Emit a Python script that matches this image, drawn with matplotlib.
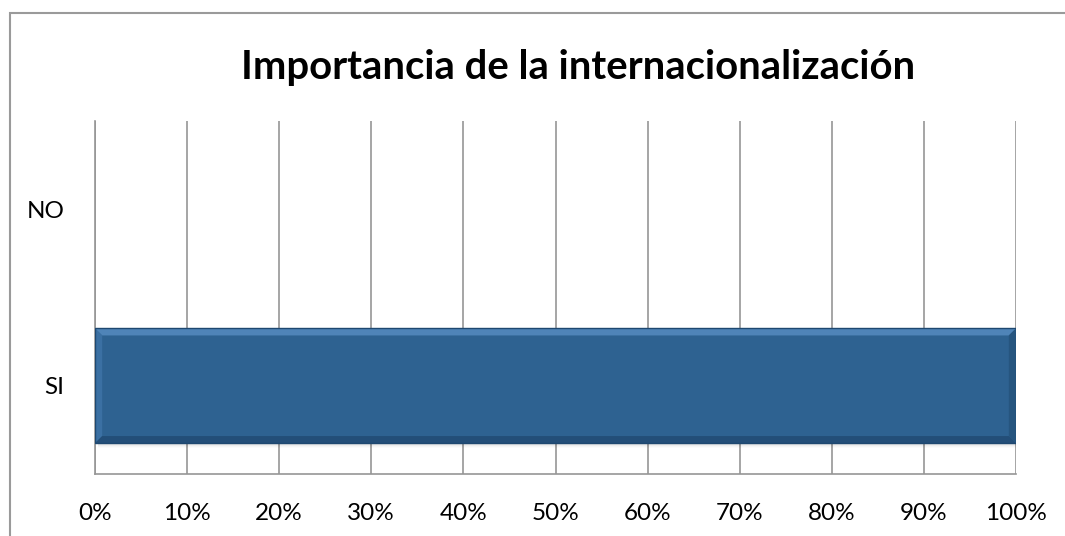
import matplotlib.pyplot as plt
from matplotlib.patches import Rectangle, Polygon
from matplotlib.ticker import PercentFormatter

categories = ['SI', 'NO']
values = [1.0, 0.0]
ticks = [i / 10 for i in range(11)]

W, H = 1065, 536
fig = plt.figure(figsize=(W / 100, H / 100), dpi=100)
plt.rcParams['font.family'] = ['Lato', 'DejaVu Sans']

# outer chart frame, runs off the right and bottom edges
fig.add_artist(Rectangle((10 / W, -0.2), 1.2, 1.2 - 13 / H, transform=fig.transFigure,
                         fill=False, edgecolor='#9a9a9a', lw=1.5))

left, right, top, bottom = 95, 1016, 121, 474
ax = fig.add_axes([left / W, 1 - bottom / H, (right - left) / W, (bottom - top) / H])

grid_c = '#969696'
for t in ticks:
    ax.axvline(t, color=grid_c, lw=1.2, zorder=0)

bar_h = 0.65
bx = 0.0078   # bevel width in x units
by = 0.04     # bevel width in y units
for i, v in enumerate(values):
    if v <= 0:
        continue
    y0, y1 = i - bar_h / 2, i + bar_h / 2
    # soft shadow under the bar
    for k in range(5):
        ax.add_patch(Rectangle((0.003, y0 - 0.006 - k * 0.006), v - 0.003, 0.02,
                               color='#000000', alpha=0.05 - k * 0.009, lw=0, zorder=1))
    ax.barh(i, v, height=bar_h, color='#2e6291', lw=0, zorder=2)
    # bevel faces
    faces = [
        ([(0, y1), (v, y1), (v - bx, y1 - by), (bx, y1 - by)], '#4f84b8'),
        ([(0, y0), (0, y1), (bx, y1 - by), (bx, y0 + by)], '#3b70a3'),
        ([(v, y0), (v, y1), (v - bx, y1 - by), (v - bx, y0 + by)], '#26557f'),
        ([(0, y0), (v, y0), (v - bx, y0 + by), (bx, y0 + by)], '#234e78'),
    ]
    for pts, c in faces:
        ax.add_patch(Polygon(pts, closed=True, color=c, lw=0, zorder=3))
    ax.add_patch(Rectangle((0, y0), v, bar_h, fill=False, edgecolor='#1e4870',
                           lw=1.0, zorder=4))

ax.set_xlim(0, 1)
ax.set_ylim(-0.5, 1.5)
ax.set_xticks(ticks)
ax.xaxis.set_major_formatter(PercentFormatter(1.0, decimals=0))
ax.set_yticks(range(len(categories)))
ax.set_yticklabels(categories)
ax.tick_params(axis='both', length=0, labelsize=17.5, colors='black')
ax.tick_params(axis='x', pad=21)
ax.tick_params(axis='y', pad=22)
ax.spines['top'].set_visible(False)
ax.spines['right'].set_visible(False)
ax.spines['left'].set_color(grid_c)
ax.spines['bottom'].set_color(grid_c)
ax.spines['left'].set_linewidth(1.2)
ax.spines['bottom'].set_linewidth(1.2)

fig.text(578 / W, 1 - 68 / H, 'Importancia de la internacionalización',
         ha='center', va='center', fontsize=28.8, fontweight='bold')

fig.savefig('out.png', dpi=100)
